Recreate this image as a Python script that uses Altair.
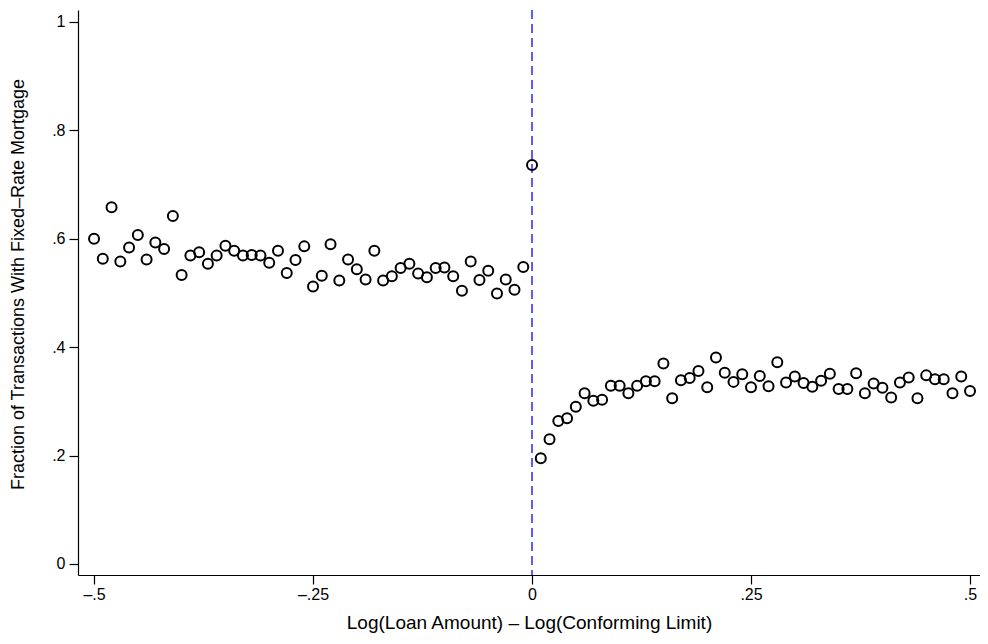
import altair as alt
import pandas as pd

# bin centers: log(loan amount) - log(conforming limit)
log_diff = [
    -0.50, -0.49, -0.48, -0.47, -0.46, -0.45, -0.44, -0.43, -0.42, -0.41,
    -0.40, -0.39, -0.38, -0.37, -0.36, -0.35, -0.34, -0.33, -0.32, -0.31,
    -0.30, -0.29, -0.28, -0.27, -0.26, -0.25, -0.24, -0.23, -0.22, -0.21,
    -0.20, -0.19, -0.18, -0.17, -0.16, -0.15, -0.14, -0.13, -0.12, -0.11,
    -0.10, -0.09, -0.08, -0.07, -0.06, -0.05, -0.04, -0.03, -0.02, -0.01,
    0.00,
    0.01, 0.02, 0.03, 0.04, 0.05, 0.06, 0.07, 0.08, 0.09, 0.10,
    0.11, 0.12, 0.13, 0.14, 0.15, 0.16, 0.17, 0.18, 0.19, 0.20,
    0.21, 0.22, 0.23, 0.24, 0.25, 0.26, 0.27, 0.28, 0.29, 0.30,
    0.31, 0.32, 0.33, 0.34, 0.35, 0.36, 0.37, 0.38, 0.39, 0.40,
    0.41, 0.42, 0.43, 0.44, 0.45, 0.46, 0.47, 0.48, 0.49, 0.50,
]

# fraction of transactions with fixed-rate mortgage
frac_fixed = [
    0.600, 0.563, 0.658, 0.558, 0.584, 0.607, 0.562, 0.593, 0.581, 0.642,
    0.533, 0.569, 0.575, 0.554, 0.569, 0.587, 0.578, 0.569, 0.570, 0.569,
    0.556, 0.578, 0.537, 0.561, 0.586, 0.512, 0.532, 0.590, 0.523, 0.562,
    0.544, 0.525, 0.578, 0.523, 0.531, 0.546, 0.554, 0.536, 0.529, 0.546,
    0.547, 0.531, 0.504, 0.558, 0.524, 0.541, 0.499, 0.525, 0.506, 0.548,
    0.736,
    0.195, 0.230, 0.264, 0.269, 0.290, 0.315, 0.301, 0.303, 0.329, 0.329,
    0.315, 0.329, 0.337, 0.337, 0.370, 0.306, 0.339, 0.343, 0.356, 0.326,
    0.381, 0.353, 0.336, 0.350, 0.326, 0.347, 0.328, 0.372, 0.335, 0.346,
    0.334, 0.327, 0.338, 0.351, 0.323, 0.323, 0.352, 0.315, 0.333, 0.325,
    0.307, 0.335, 0.344, 0.306, 0.348, 0.341, 0.341, 0.315, 0.346, 0.319,
]

x_ticks = [-0.5, -0.25, 0, 0.25, 0.5]
x_tick_labels = ["\u2013.5", "\u2013.25", "0", ".25", ".5"]
y_ticks = [0, 0.2, 0.4, 0.6, 0.8, 1]
y_tick_labels = ["0", ".2", ".4", ".6", ".8", "1"]
cutoff = [0.0]

df = pd.DataFrame({"x": log_diff, "y": frac_fixed})


def label_expr(vals, labs):
    parts = [f"abs(datum.value - ({v})) < 1e-9 ? '{l}'" for v, l in zip(vals, labs)]
    return " : ".join(parts) + " : ''"


FONT = "Liberation Sans"

x_scale = alt.Scale(domain=[-0.5183, 0.5114], nice=False, zero=False)
y_scale = alt.Scale(domain=[-0.0203, 1.0221], nice=False, zero=False)

points = alt.Chart(df).mark_point(
    shape="circle", filled=False, color="black", size=100, strokeWidth=2, opacity=1
).encode(
    x=alt.X(
        "x:Q",
        scale=x_scale,
        axis=alt.Axis(
            values=x_ticks,
            labelExpr=label_expr(x_ticks, x_tick_labels),
            title="Log(Loan Amount) \u2013 Log(Conforming Limit)",
            titleFontSize=19,
            tickSize=9,
            labelPadding=2,
            titlePadding=11,
        ),
    ),
    y=alt.Y(
        "y:Q",
        scale=y_scale,
        axis=alt.Axis(
            values=y_ticks,
            labelExpr=label_expr(y_ticks, y_tick_labels),
            title="Fraction of Transactions With Fixed\u2013Rate Mortgage",
            titleFontSize=18,
            titleY=274,
            tickSize=9,
            labelPadding=4,
            titlePadding=24,
        ),
    ),
)

rule = alt.Chart(pd.DataFrame({"c": cutoff})).mark_rule(
    color="#3333ff", strokeDash=[9, 5], strokeWidth=1.6
).encode(x=alt.X("c:Q", scale=x_scale))

chart = (
    alt.layer(rule, points)
    .properties(
        width=902,
        height=565,
        autosize=alt.AutoSizeParams(type="none"),
        padding={"left": 70, "top": 2, "right": 0, "bottom": 60},
    )
    .configure_view(stroke=None)
    .configure_axis(
        grid=False,
        domainColor="black",
        domainWidth=1.2,
        tickColor="black",
        tickWidth=1.2,
        labelColor="black",
        titleColor="black",
        labelFont=FONT,
        titleFont=FONT,
        labelFontSize=16,
        titleFontWeight="normal",
    )
    .configure_axisY(labelAngle=0)
)

chart.save("out.html", embed_options={"renderer": "svg", "actions": False})
